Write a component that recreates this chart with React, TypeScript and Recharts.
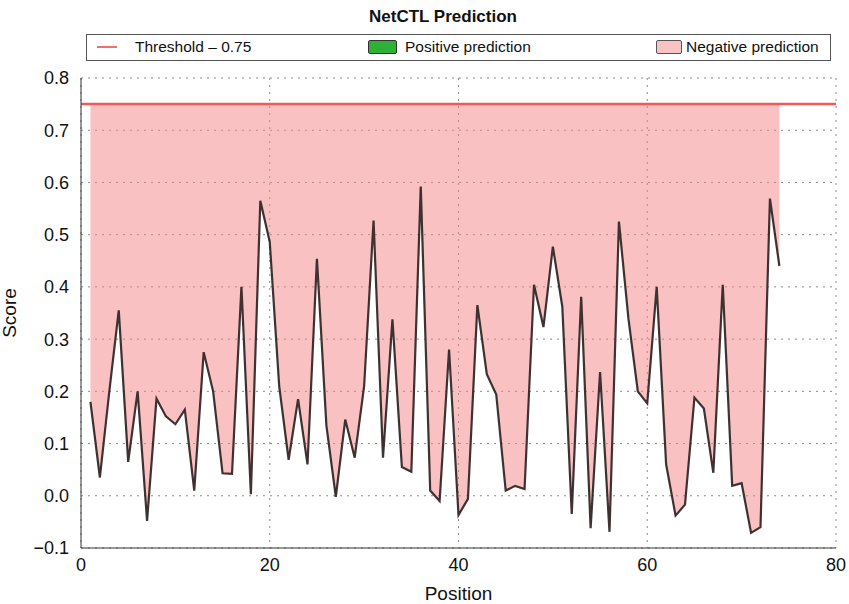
import React from 'react';
import {
  ComposedChart,
  Area,
  Line,
  XAxis,
  YAxis,
  CartesianGrid,
  ReferenceLine,
} from 'recharts';

const positions = [
  1, 2, 3, 4, 5, 6, 7, 8, 9, 10, 11, 12, 13, 14, 15, 16, 17, 18, 19, 20,
  21, 22, 23, 24, 25, 26, 27, 28, 29, 30, 31, 32, 33, 34, 35, 36, 37, 38, 39, 40,
  41, 42, 43, 44, 45, 46, 47, 48, 49, 50, 51, 52, 53, 54, 55, 56, 57, 58, 59, 60,
  61, 62, 63, 64, 65, 66, 67, 68, 69, 70, 71, 72, 73, 74,
];

const scores = [
  0.18, 0.035, 0.2, 0.355, 0.065, 0.2, -0.048, 0.186, 0.152, 0.137,
  0.165, 0.01, 0.275, 0.2, 0.043, 0.042, 0.4, 0.003, 0.565, 0.486,
  0.21, 0.069, 0.185, 0.06, 0.454, 0.135, -0.002, 0.146, 0.073, 0.21,
  0.527, 0.073, 0.338, 0.055, 0.046, 0.592, 0.01, -0.01, 0.28, -0.037,
  -0.006, 0.365, 0.233, 0.194, 0.01, 0.019, 0.013, 0.404, 0.323, 0.477,
  0.362, -0.035, 0.381, -0.062, 0.237, -0.069, 0.525, 0.34, 0.2, 0.177,
  0.4, 0.06, -0.038, -0.017, 0.188, 0.167, 0.044, 0.404, 0.019, 0.024,
  -0.071, -0.06, 0.569, 0.44,
];

const threshold = 0.75;
const xTicks = [0, 20, 40, 60, 80];
const xMinorTicks = [0, 5, 10, 15, 20, 25, 30, 35, 40, 45, 50, 55, 60, 65, 70, 75, 80];
const yTicks = [-0.1, 0, 0.1, 0.2, 0.3, 0.4, 0.5, 0.6, 0.7, 0.8];

const data = positions.map((p, i) => ({
  position: p,
  score: scores[i],
  band: [scores[i], threshold],
}));

const FONT = '"Liberation Sans", Arial, sans-serif';
const tickStyle = { fill: '#111', fontSize: 18, fontFamily: FONT };

const fmtY = (v: number) => {
  const s = Math.abs(v).toFixed(1);
  return v < 0 ? `\u2212${s}` : s;
};

function Legend() {
  return (
    <div
      style={{
        position: 'absolute',
        left: 86,
        top: 34,
        width: 743,
        height: 25,
        border: '1px solid #555',
        fontFamily: FONT,
        fontSize: 15.5,
        color: '#111',
        background: '#fff',
      }}
    >
      <div style={{ position: 'absolute', left: 10, top: 11, width: 20, height: 2, background: '#f07070' }} />
      <span style={{ position: 'absolute', left: 48, top: 3 }}>Threshold – 0.75</span>
      <div
        style={{
          position: 'absolute', left: 281, top: 5, width: 27, height: 12,
          background: '#2eb135', border: '1px solid #333', borderRadius: 2,
        }}
      />
      <span style={{ position: 'absolute', left: 318, top: 3 }}>Positive prediction</span>
      <div
        style={{
          position: 'absolute', left: 569, top: 5, width: 24, height: 12,
          background: '#f7c3c3', border: '1px solid #555', borderRadius: 2,
        }}
      />
      <span style={{ position: 'absolute', left: 599, top: 3 }}>Negative prediction</span>
    </div>
  );
}

export default function App() {
  return (
    <div style={{ position: 'absolute', left: 0, top: 0, width: 849, height: 604, background: '#fff' }}>
      <div
        style={{
          position: 'absolute', left: 0, width: 886, top: 7, textAlign: 'center',
          fontFamily: FONT, fontWeight: 'bold', fontSize: 17, color: '#111',
        }}
      >
        NetCTL Prediction
      </div>
      <Legend />
      <ComposedChart
        width={849}
        height={604}
        data={data}
        margin={{ top: 78, right: 13, bottom: 26, left: 21 }}
      >
        <CartesianGrid stroke="#8a8a8a" strokeDasharray="2 5" vertical horizontal />
        <Area
          dataKey="band"
          type="linear"
          fill="#f38383"
          fillOpacity={0.5}
          stroke="none"
          isAnimationActive={false}
        />
        <XAxis
          dataKey="position"
          type="number"
          domain={[0, 80]}
          ticks={xTicks}
          tick={tickStyle}
          tickLine={false}
          tickMargin={4}
          axisLine={{ stroke: '#333' }}
          height={30}
          label={{ value: 'Position', position: 'insideBottom', offset: -22, style: { fill: '#111', fontSize: 19, fontFamily: FONT } }}
        />
        <XAxis
          xAxisId="top"
          orientation="top"
          type="number"
          domain={[0, 80]}
          ticks={xMinorTicks}
          tick={false}
          mirror
          tickSize={4}
          height={0}
          axisLine={{ stroke: '#333' }}
          tickLine={{ stroke: '#333' }}
        />
        <YAxis
          type="number"
          domain={[-0.1, 0.8]}
          ticks={yTicks}
          tickFormatter={fmtY}
          tick={tickStyle}
          tickLine={false}
          tickMargin={6}
          width={60}
          axisLine={{ stroke: '#333' }}
          label={{ value: 'Score', angle: -90, position: 'insideLeft', offset: -12, style: { fill: '#111', fontSize: 19, fontFamily: FONT, textAnchor: 'middle' } }}
        />
        <YAxis
          yAxisId="right"
          orientation="right"
          type="number"
          domain={[-0.1, 0.8]}
          ticks={yTicks}
          tick={false}
          mirror
          tickSize={4}
          width={0}
          axisLine={{ stroke: '#333' }}
          tickLine={{ stroke: '#333' }}
        />
        <Line
          dataKey="score"
          type="linear"
          stroke="#2a1e1e"
          strokeWidth={2.2}
          strokeOpacity={0.9}
          dot={false}
          isAnimationActive={false}
        />
        <ReferenceLine y={threshold} stroke="#f05a5a" strokeWidth={2.5} />
      </ComposedChart>
    </div>
  );
}
